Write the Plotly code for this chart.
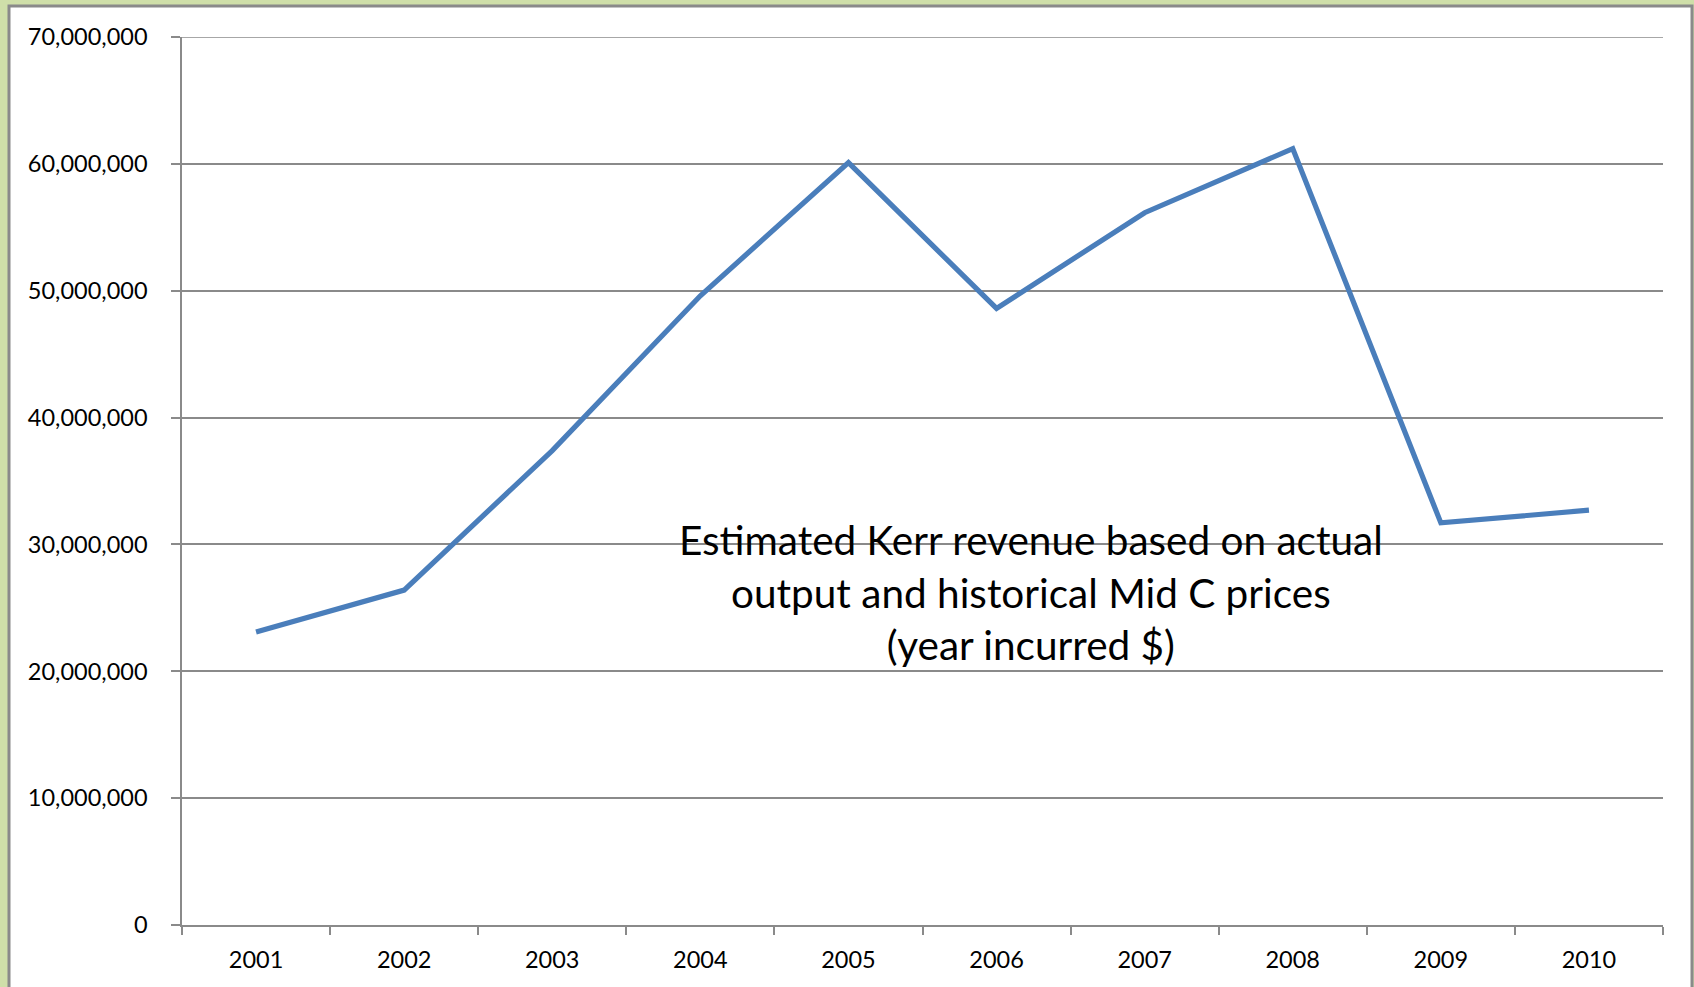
import plotly.graph_objects as go

years = ["2001", "2002", "2003", "2004", "2005", "2006", "2007", "2008", "2009", "2010"]
revenue = [23.1e6, 26.4e6, 37.4e6, 49.6e6, 60.1e6, 48.6e6, 56.15e6, 61.2e6, 31.7e6, 32.7e6]
y_ticks = [0, 10e6, 20e6, 30e6, 40e6, 50e6, 60e6, 70e6]
note_lines = ["Estimated Kerr revenue based on actual",
              "output and historical Mid C prices",
              "(year incurred $)"]

W, H = 1694, 987
L, R, T, B = 182, 1694 - 1663, 37, 987 - 925
pw, ph = W - L - R, H - T - B

def px(x):
    return (x - L) / pw

def py(y):
    return (H - B - y) / ph

fig = go.Figure()
fig.add_trace(go.Scatter(x=years, y=revenue, mode="lines",
                         line=dict(color="#4a7ebb", width=5.2), showlegend=False))

fig.add_shape(type="rect", xref="paper", yref="paper",
              x0=px(9), x1=px(1692), y0=py(1010), y1=py(6),
              fillcolor="white", line=dict(color="#8a8a8a", width=3), layer="below")
fig.add_hline(y=max(y_ticks), line=dict(color="#8a8a8a", width=1.5), layer="below")

fig.add_annotation(xref="paper", yref="paper", x=px(1031), y=py(592),
                   text="<br>".join(note_lines), showarrow=False,
                   font=dict(family="Lato", size=40.5, color="black"),
                   align="center", xanchor="center", yanchor="middle")

fig.update_layout(
    width=W, height=H,
    margin=dict(l=L, r=R, t=T, b=B, pad=0),
    paper_bgcolor="#cfdfa9", plot_bgcolor="white",
    font=dict(family="Lato", size=23.5, color="black"),
)
fig.update_xaxes(type="category", range=[-0.5, 9.5], showgrid=False,
                 showline=True, linecolor="#8a8a8a", linewidth=1.5,
                 ticks="outside", tickson="boundaries", ticklen=8,
                 tickcolor="#8a8a8a", tickwidth=1.5, ticklabelstandoff=13,
                 tickfont=dict(family="Lato", size=23.5))
fig.update_yaxes(range=[0, 70e6], tickvals=y_ticks, tickformat=",d",
                 showgrid=True, gridcolor="#8a8a8a", gridwidth=1.5,
                 showline=True, linecolor="#8a8a8a", linewidth=1.5,
                 ticks="outside", ticklen=9, tickcolor="#8a8a8a", tickwidth=1.5,
                 ticklabelstandoff=19, zeroline=False,
                 tickfont=dict(family="Lato", size=23.5))

fig.write_html("out.html", config={"displayModeBar": False},
               post_script="document.body.style.margin='0';")
